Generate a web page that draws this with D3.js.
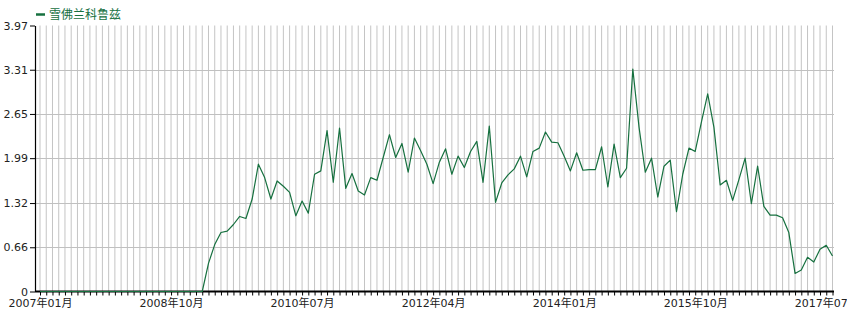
<!DOCTYPE html>
<html lang="zh">
<head>
<meta charset="utf-8">
<title>雪佛兰科鲁兹</title>
<script src="https://d3js.org/d3.v7.min.js"></script>
<style>
  body { margin: 0; background: #fff; }
  text { font-family: "DejaVu Sans", "Noto Sans CJK SC", sans-serif; }
</style>
</head>
<body>
<script>
// series name
var seriesName = "雪佛兰科鲁兹";

// one value per month, 2007-01 .. 2017-08
var values = [
  0, 0, 0, 0, 0, 0, 0, 0, 0, 0, 0, 0,            // 2007
  0, 0, 0, 0, 0, 0, 0, 0, 0, 0, 0, 0,            // 2008
  0, 0, 0, 0.42, 0.70, 0.88, 0.90, 1.00, 1.12, 1.09, 1.38, 1.90,   // 2009
  1.70, 1.38, 1.65, 1.57, 1.48, 1.13, 1.35, 1.17, 1.75, 1.80, 2.40, 1.63, // 2010
  2.44, 1.54, 1.76, 1.50, 1.44, 1.70, 1.66, 2.00, 2.34, 2.00, 2.21, 1.78, // 2011
  2.29, 2.10, 1.90, 1.61, 1.93, 2.13, 1.75, 2.02, 1.85, 2.09, 2.24, 1.63, // 2012
  2.47, 1.33, 1.62, 1.74, 1.83, 2.02, 1.71, 2.09, 2.14, 2.38, 2.23, 2.22, // 2013
  2.02, 1.80, 2.07, 1.81, 1.82, 1.82, 2.16, 1.56, 2.20, 1.70, 1.84, 3.32, // 2014
  2.45, 1.78, 1.99, 1.41, 1.87, 1.96, 1.19, 1.75, 2.14, 2.09, 2.53, 2.95, // 2015
  2.45, 1.59, 1.66, 1.36, 1.67, 1.99, 1.31, 1.87, 1.27, 1.14, 1.14, 1.10, // 2016
  0.88, 0.27, 0.32, 0.51, 0.44, 0.63, 0.69, 0.53                          // 2017
];

// month categories
var months = d3.timeMonth.range(new Date(2007, 0, 1), new Date(2017, 8, 1))
  .map(d3.timeFormat("%Y年%m月"));

// labelled ticks
var xTickLabels = ["2007年01月", "2008年10月", "2010年07月", "2012年04月",
                   "2014年01月", "2015年10月", "2017年07月"];
var yTicks = [0, 0.66, 1.32, 1.99, 2.65, 3.31, 3.97];

var width = 847, height = 315;
var plotL = 35, plotR = 834, plotT = 25.5, plotB = 291.5;
var green = "#16703f";

var svg = d3.select("body").append("svg")
  .attr("width", width)
  .attr("height", height);

var x = d3.scalePoint()
  .domain(months)
  .range([40, 832.5]);

var y = d3.scaleLinear()
  .domain([0, 3.97])
  .range([plotB, plotT]);

// vertical grid, one per month
svg.append("g")
  .selectAll("line")
  .data(months)
  .join("line")
  .attr("x1", function(d) { return x(d); })
  .attr("x2", function(d) { return x(d); })
  .attr("y1", plotT)
  .attr("y2", plotB)
  .attr("stroke", "#c4c4c4")
  .attr("stroke-width", 1);

// horizontal grid
svg.append("g")
  .selectAll("line")
  .data(yTicks.slice(1, -1))
  .join("line")
  .attr("x1", plotL)
  .attr("x2", plotR)
  .attr("y1", function(d) { return Math.round(y(d)) + 0.5; })
  .attr("y2", function(d) { return Math.round(y(d)) + 0.5; })
  .attr("stroke", "#c0c0c0")
  .attr("stroke-width", 1);

// x axis
var xAxis = d3.axisBottom(x)
  .tickSize(4)
  .tickSizeOuter(0)
  .tickPadding(4)
  .tickFormat(function(d) { return xTickLabels.indexOf(d) >= 0 ? d : ""; });

var gx = svg.append("g")
  .attr("transform", "translate(0," + plotB + ")")
  .call(xAxis);
gx.select(".domain").remove();
gx.selectAll("line").attr("stroke", "#000");
gx.selectAll("text").attr("font-size", 11).attr("fill", "#222")
  .attr("font-family", "DejaVu Sans, Noto Sans CJK SC, sans-serif");
gx.append("line")
  .attr("x1", plotL).attr("x2", plotR)
  .attr("y1", 0).attr("y2", 0)
  .attr("stroke", "#000")
  .attr("stroke-width", 2);

// y axis
var yAxis = d3.axisLeft(y)
  .tickValues(yTicks)
  .tickFormat(function(d) { return d === 0 ? "0" : d3.format(".2f")(d); })
  .tickSize(5)
  .tickSizeOuter(0)
  .tickPadding(2);

var gy = svg.append("g")
  .attr("transform", "translate(" + plotL + ",0)")
  .call(yAxis);
gy.select(".domain").attr("stroke", "#000").attr("stroke-width", 1.2);
gy.selectAll("line").attr("stroke", "#000");
gy.selectAll("text").attr("font-size", 11).attr("fill", "#222")
  .attr("font-family", "DejaVu Sans, sans-serif");

// series line
var line = d3.line()
  .x(function(d, i) { return x(months[i]); })
  .y(function(d) { return y(d); });

svg.append("path")
  .datum(values)
  .attr("d", line)
  .attr("fill", "none")
  .attr("stroke", green)
  .attr("stroke-width", 1.2)
  .attr("stroke-linejoin", "round");

// legend
var legend = svg.append("g").attr("transform", "translate(36,14.5)");
legend.append("line")
  .attr("x1", 0).attr("x2", 9)
  .attr("y1", 0).attr("y2", 0)
  .attr("stroke", green)
  .attr("stroke-width", 2.5);
legend.append("text")
  .attr("x", 13)
  .attr("y", 0)
  .attr("dy", "0.35em")
  .attr("font-size", 12)
  .attr("fill", green)
  .attr("font-family", "Noto Sans CJK SC, sans-serif")
  .text(seriesName);
</script>
</body>
</html>
